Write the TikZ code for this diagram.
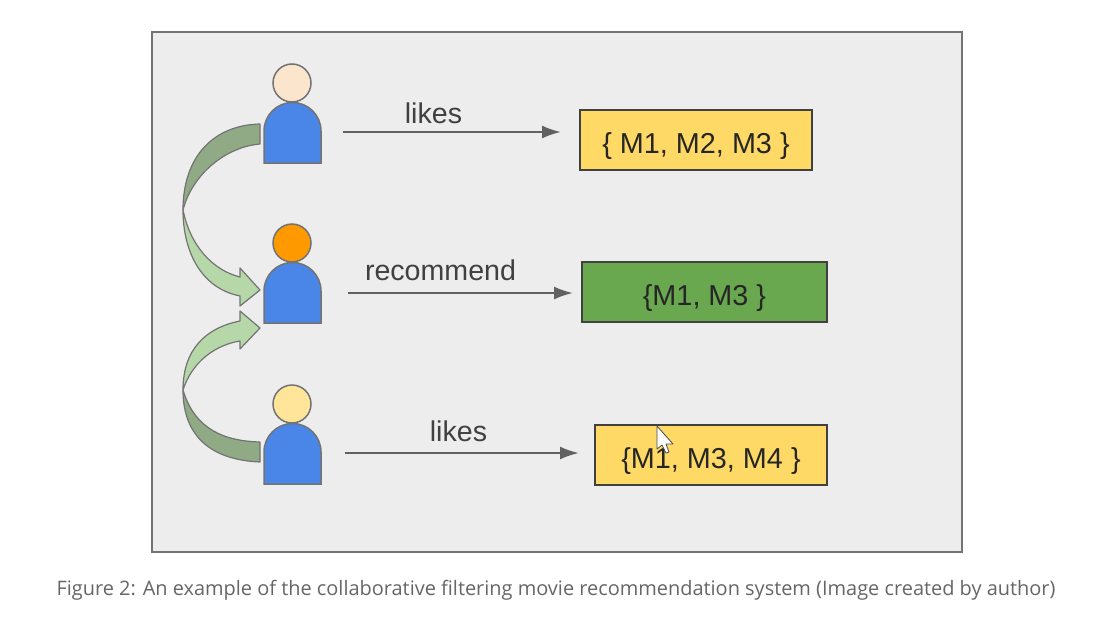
\documentclass[tikz,border=0pt]{standalone}
\usepackage{fontspec}
\setmainfont{Liberation Sans}
\newfontfamily\captionfont{Open Sans}
\usetikzlibrary{arrows.meta}
\definecolor{panelgray}{HTML}{EDEDED}
\definecolor{edgegray}{HTML}{737373}
\definecolor{bodyblue}{HTML}{4A86E8}
\definecolor{moviegold}{HTML}{FFD966}
\definecolor{moviegreen}{HTML}{6AA84F}
\definecolor{arrowdark}{HTML}{8FAA84}
\definecolor{arrowlight}{HTML}{B6D7A8}
\definecolor{headpeach}{HTML}{FCE5CD}
\definecolor{headorange}{HTML}{FF9900}
\definecolor{headyellow}{HTML}{FFE599}
\tikzset{
  head/.style={circle,draw=edgegray,line width=1.5pt,minimum size=38pt,inner sep=0pt},
  body/.style={draw=edgegray,line width=1.5pt,fill=bodyblue},
  movie/.style={draw=black!75,line width=1.3pt,minimum height=60pt,inner sep=0pt,text height=26pt,text depth=0pt,text=black!85,font=\fontsize{28.8}{30}\selectfont},
  verb/.style={text=black!75,font=\fontsize{28.6}{30}\selectfont},
  flow/.style={draw=black!62,line width=2.2pt,-{Latex[length=19pt,width=13pt]}},
  curve/.style={draw=edgegray,line width=1.2pt,line join=round}
}
\begin{document}
\begin{tikzpicture}[x=1pt,y=-1pt]
  \useasboundingbox (0,0) rectangle (1108,621);
  \fill[white] (0,0) rectangle (1108,621);
  \draw[draw=edgegray,fill=panelgray,line width=1.2pt] (152,32) rectangle (962,552);

  % people
  \node[head,fill=headpeach] (head1) at (292,83) {};
  \node[head,fill=headorange] (head2) at (292,243) {};
  \node[head,fill=headyellow] (head3) at (292,404) {};
  \draw[body] (264,163) -- (264,131) arc[start angle=180,end angle=360,radius=28.5] -- (321,163) -- cycle;
  \draw[body] (264,323) -- (264,291) arc[start angle=180,end angle=360,radius=28.5] -- (321,323) -- cycle;
  \draw[body] (264,484) -- (264,452) arc[start angle=180,end angle=360,radius=28.5] -- (321,484) -- cycle;

  % curved arrows
  \draw[curve,fill=arrowdark] (260,124) .. controls (215,125) and (183,155) .. (183,210)
    .. controls (192,175) and (225,147) .. (260,144) -- cycle;
  \draw[curve,fill=arrowlight] (183,210) .. controls (183,250) and (200,288) .. (240,296)
    -- (240,306) -- (260,290) -- (240,268) -- (240,277) .. controls (212,270) and (190,245) .. (183,210) -- cycle;
  \draw[curve,fill=arrowdark] (260,442) .. controls (225,441) and (195,430) .. (183,390)
    .. controls (183,438) and (213,460) .. (260,462) -- cycle;
  \draw[curve,fill=arrowlight] (183,390) .. controls (183,350) and (205,328) .. (240,321)
    -- (240,311) -- (260,328) -- (240,349) -- (240,341) .. controls (215,345) and (192,362) .. (183,390) -- cycle;

  % movie lists
  \node[movie,fill=moviegold,minimum width=232pt] (list1) at (696,140) {\{ M1, M2, M3 \}};
  \node[movie,fill=moviegreen,minimum width=245pt] (list2) at (704.5,292) {\{M1, M3 \}};
  \node[movie,fill=moviegold,minimum width=232pt] (list3) at (711,455) {\{M1, M3, M4 \}};

  % likes and recommend
  \coordinate (from1) at (343,132);
  \coordinate (to1) at (561,132);
  \coordinate (from2) at (348,293);
  \coordinate (to2) at (573,293);
  \coordinate (from3) at (345,453);
  \coordinate (to3) at (579,453);
  \draw[flow] (from1) -- (to1);
  \draw[flow] (from2) -- (to2);
  \draw[flow] (from3) -- (to3);
  \node[verb] (verb1) at (433.5,113) {likes};
  \node[verb] (verb2) at (440.5,270) {recommend};
  \node[verb] (verb3) at (458.5,431.5) {likes};

  % mouse pointer
  \draw[draw=black!70,fill=white,line width=.8pt,line join=round] (657,426) -- (657,449) -- (662,445) -- (666,453) -- (669,452) -- (666,444) -- (673,444) -- cycle;

  \node[text=black!60,font=\captionfont\fontsize{19.94}{22}\selectfont] (caption) at (556,590)
    {Figure 2: An example of the collaborative filtering movie recommendation system (Image created by author)};
\end{tikzpicture}
\end{document}
